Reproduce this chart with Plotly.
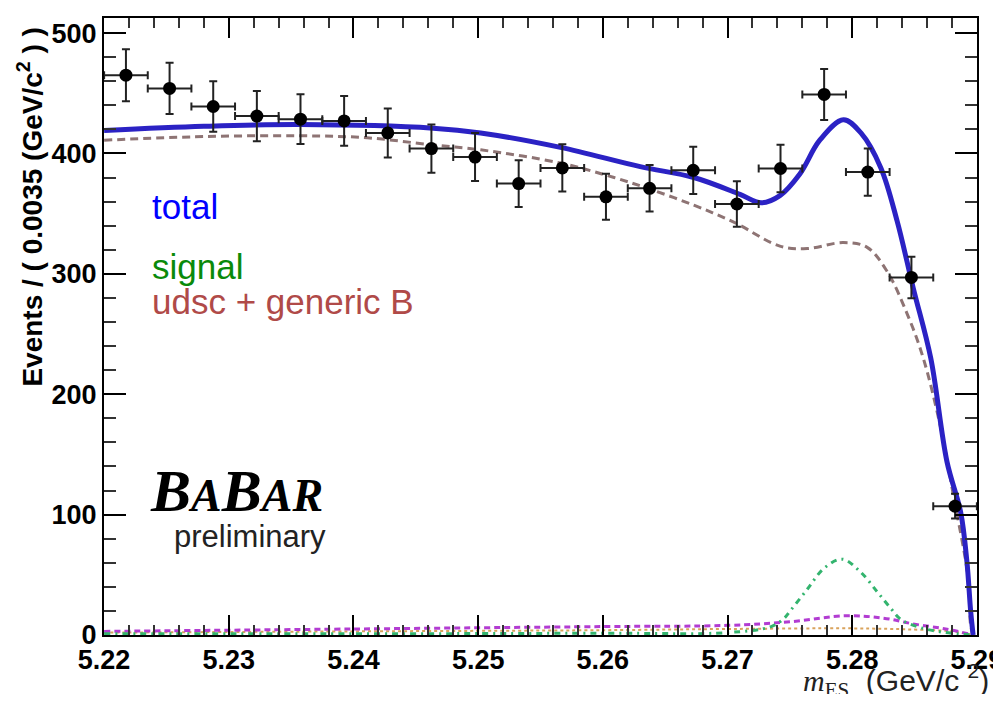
import plotly.graph_objects as go

# ---- data points (bin centres, events, errors) ----
bin_x = [5.22175, 5.22525, 5.22875, 5.23225, 5.23575, 5.23925, 5.24275, 5.24625,
         5.24975, 5.25325, 5.25675, 5.26025, 5.26375, 5.26725, 5.27075, 5.27425,
         5.27775, 5.28125, 5.28475, 5.28825]
events = [465, 454, 439, 431, 428.5, 427, 417, 404, 397, 375, 388, 364, 371, 386,
          358, 387.5, 449, 384.5, 297, 107]
ev_err = [21.6, 21.3, 21.0, 20.8, 20.7, 20.7, 20.4, 20.1, 19.9, 19.4, 19.7, 19.1,
          19.3, 19.6, 18.9, 19.7, 21.2, 19.6, 17.2, 10.3]
bin_half = [0.00175] * 20

# ---- total fit ----
tot_x = [5.2200, 5.2280, 5.2357, 5.2464, 5.2502, 5.2566, 5.2630, 5.2673, 5.2710,
         5.2727, 5.2742, 5.2758, 5.2774, 5.2793, 5.2807, 5.2823, 5.2836, 5.2849,
         5.2863, 5.2876, 5.2887, 5.2892, 5.2895, 5.2897]
tot_y = [419, 422.5, 424, 421, 417, 405, 389, 380, 366, 359, 365, 383, 411, 428,
         417, 388, 344, 288, 230, 144, 102, 61, 20, 0]

# ---- udsc + generic B background ----
bkg_x = [5.2200, 5.2280, 5.2357, 5.2411, 5.2464, 5.2502, 5.2566, 5.2609, 5.2636,
         5.2673, 5.2705, 5.2742, 5.2764, 5.2793, 5.2812, 5.2828, 5.2844, 5.2857,
         5.2871, 5.2881, 5.2893, 5.2895, 5.2897]
bkg_y = [411, 414, 414.7, 413, 407, 403, 392, 380, 371, 357, 343, 323, 321, 326,
         322, 302, 267, 230, 172, 117, 47, 8, 0]

# ---- signal ----
sig_x = [5.2200, 5.2400, 5.2600, 5.2700, 5.2735, 5.2745, 5.2751, 5.2764, 5.2777,
         5.2792, 5.2807, 5.2820, 5.2831, 5.2839, 5.2855, 5.2875, 5.2897]
sig_y = [1, 1, 1.5, 2, 7, 13.5, 21, 38, 55, 63, 52, 36, 22, 13, 6, 2, 0]

# ---- other small components ----
mag_x = [5.2200, 5.2400, 5.2600, 5.2700, 5.2750, 5.2795, 5.2825, 5.2850, 5.2875, 5.2897]
mag_y = [3, 5, 7, 8, 11, 16, 14, 9, 5, 0]
org_x = [5.2200, 5.2400, 5.2600, 5.2700, 5.2800, 5.2850, 5.2880, 5.2897]
org_y = [2, 3, 4, 5, 5.5, 4.5, 3, 0]

x_ticks = [5.22, 5.23, 5.24, 5.25, 5.26, 5.27, 5.28, 5.29]
x_tick_text = ["5.22", "5.23", "5.24", "5.25", "5.26", "5.27", "5.28", "5.29"]
y_ticks = [0, 100, 200, 300, 400, 500]

fig = go.Figure()

fig.add_trace(go.Scatter(x=org_x, y=org_y, mode="lines", line_shape="spline",
                         line=dict(color="#d9a35c", width=2, dash="dot"),
                         showlegend=False, hoverinfo="skip"))
fig.add_trace(go.Scatter(x=mag_x, y=mag_y, mode="lines", line_shape="spline",
                         line=dict(color="#b23cd2", width=3, dash="6px,4px"),
                         showlegend=False, hoverinfo="skip"))
fig.add_trace(go.Scatter(x=sig_x, y=sig_y, mode="lines", line_shape="spline",
                         line=dict(color="#33b46e", width=3, dash="6px,5px,2px,5px"),
                         showlegend=False, hoverinfo="skip"))
fig.add_trace(go.Scatter(x=bkg_x, y=bkg_y, mode="lines", line_shape="spline",
                         line=dict(color="#8e7474", width=3, dash="8px,5px"),
                         showlegend=False, hoverinfo="skip"))
fig.add_trace(go.Scatter(x=tot_x, y=tot_y, mode="lines", line_shape="spline",
                         line=dict(color="#2b22c4", width=5),
                         showlegend=False, hoverinfo="skip"))
fig.add_trace(go.Scatter(x=bin_x, y=events, mode="markers",
                         marker=dict(color="black", size=13),
                         error_x=dict(type="data", array=bin_half, color="#222", thickness=2, width=4),
                         error_y=dict(type="data", array=ev_err, color="#222", thickness=2, width=4),
                         showlegend=False))

sans = "Liberation Sans, Arial, sans-serif"
serif = "Liberation Serif, Times New Roman, serif"
tickfont = dict(family=sans, size=27, color="black", weight="bold")

fig.update_xaxes(range=[5.21999, 5.29001], tickvals=x_ticks, ticktext=x_tick_text,
                 ticks="inside", ticklen=20, tickwidth=2, tickcolor="black",
                 showline=True, linecolor="black", linewidth=2, mirror="ticks",
                 showgrid=False, zeroline=False, tickfont=tickfont, automargin=False,
                 ticklabeloverflow="allow",
                 minor=dict(dtick=0.002, ticks="inside", ticklen=10, tickwidth=2,
                            tickcolor="#333", showgrid=False))
fig.update_yaxes(range=[0, 512.5], tickvals=y_ticks,
                 ticks="inside", ticklen=22, tickwidth=2, tickcolor="black",
                 showline=True, linecolor="black", linewidth=2, mirror="ticks",
                 showgrid=False, zeroline=False, tickfont=tickfont, automargin=False,
                 ticklabeloverflow="allow",
                 minor=dict(dtick=20, ticks="inside", ticklen=12, tickwidth=2,
                            tickcolor="#333", showgrid=False))

ann = [
    dict(text="total", x=0.053, y=0.694, font=dict(family=sans, size=35, color="#0000ff")),
    dict(text="signal", x=0.053, y=0.598, font=dict(family=sans, size=35, color="#0a8a0a")),
    dict(text="udsc + generic B", x=0.053, y=0.540, font=dict(family=sans, size=35, color="#b04a48")),
    dict(text="<b><i>B<span style='font-size:46px'>A</span>B<span style='font-size:46px'>AR</span></i></b>",
         x=0.050, y=0.234, font=dict(family=serif, size=60, color="black")),
    dict(text="preliminary", x=0.078, y=0.160, font=dict(family=sans, size=31, color="#222")),
]
for a in ann:
    fig.add_annotation(xref="paper", yref="paper", xanchor="left", yanchor="middle",
                       showarrow=False, **a)

# axis titles
fig.add_annotation(xref="paper", yref="paper", x=-0.085, y=0.694, textangle=-90,
                   xanchor="center", yanchor="middle", showarrow=False,
                   text="<b>Events / ( 0.0035 (GeV/c<sup>2</sup> ) )</b>",
                   font=dict(family=sans, size=28, color="black"))
fig.add_annotation(xref="paper", yref="paper", x=1.016, y=-0.074,
                   xanchor="right", yanchor="middle", showarrow=False,
                   text="<span style='font-family:Liberation Serif, serif'><i>m</i><sub>ES</sub></span>  (GeV/c <sup>2</sup>)",
                   font=dict(family=sans, size=30, color="#222"))

# page body has an 8px margin: the figure is sized/offset to compensate
fig.update_layout(width=993, height=686, autosize=False,
                  margin=dict(l=96, r=24, t=10, b=59),
                  paper_bgcolor="white", plot_bgcolor="white")

fig.write_html("out.html")
